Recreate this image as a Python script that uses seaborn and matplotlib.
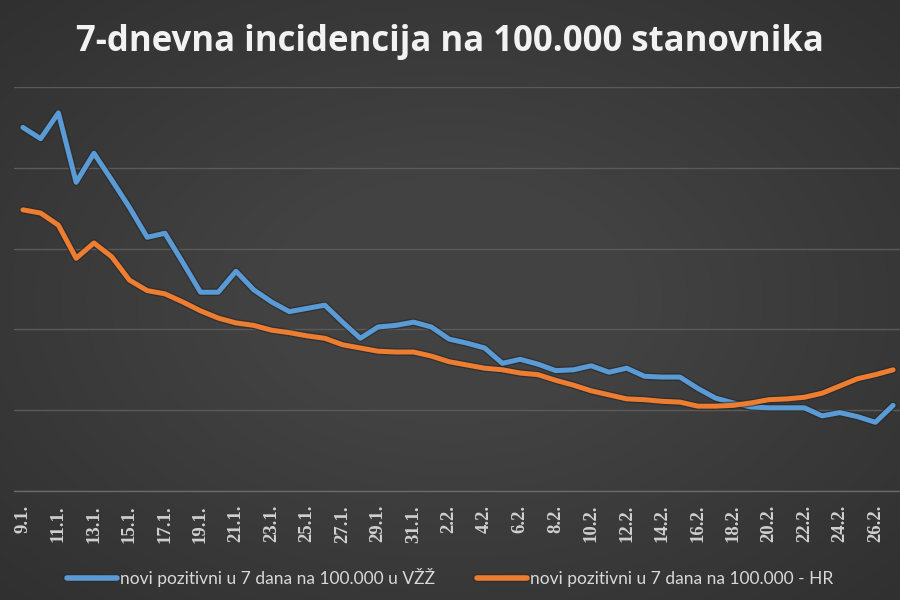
import numpy as np
import pandas as pd
import matplotlib
matplotlib.use("Agg")
import matplotlib.pyplot as plt
import matplotlib.patheffects as pe
import seaborn as sns

days = [f"{d}.1." for d in range(9, 32)] + [f"{d}.2." for d in range(1, 28)]
vzz = [450, 436, 468, 382, 418, 385, 351, 314, 319, 283,
       246, 246, 272, 249, 234, 222, 226, 230, 209, 189,
       203, 205, 209, 203, 188, 183, 177, 158, 163, 157,
       149, 150, 155, 147, 152, 142, 141, 141, 127, 115,
       109, 104, 103, 103, 103, 93, 97, 92, 85, 106]
hr = [348, 344, 329, 288, 307, 290, 261, 248, 244, 234,
      223, 214, 208, 205, 199, 196, 192, 189, 181, 177,
      173, 172, 172, 167, 160, 156, 152, 150, 146, 144,
      137, 131, 124, 119, 114, 113, 111, 110, 105, 105,
      106, 109, 113, 114, 116, 121, 130, 139, 144, 150]
series_names = ["novi pozitivni u 7 dana na 100.000 u VŽŽ",
                "novi pozitivni u 7 dana na 100.000 - HR"]
title = "7-dnevna incidencija na 100.000 stanovnika"

df = pd.DataFrame({
    "idx": list(range(len(days))) * 2,
    "value": vzz + hr,
    "serija": [series_names[0]] * len(days) + [series_names[1]] * len(days),
})

sns.set_theme(style="dark")
bg = "#3e3e3e"
fig = plt.figure(figsize=(9, 6), dpi=100, facecolor=bg)

# subtle vignette background
bax = fig.add_axes([0, 0, 1, 1], zorder=-10)
yy, xx = np.mgrid[-1:1:300j, -1:1:450j]
r = np.sqrt(xx**2 + yy**2)
shade = 0.26 - 0.07 * np.clip(r - 0.4, 0, None)
bax.imshow(np.dstack([shade, shade, shade]), extent=[0, 1, 0, 1], aspect="auto")
bax.axis("off")

ax = fig.add_axes([14 / 900, 109 / 600, 888 / 900, 404 / 600])
ax.set_facecolor("none")
palette = {series_names[0]: "#5b9bd5", series_names[1]: "#ed7d31"}
sns.lineplot(data=df, x="idx", y="value", hue="serija", palette=palette,
             linewidth=3.6, ax=ax, legend=True)
for ln in ax.get_lines():
    ln.set_path_effects([pe.Stroke(linewidth=5.5, foreground="#262626", alpha=0.6), pe.Normal()])
    ln.set_solid_capstyle("round")
    ln.set_solid_joinstyle("round")

ax.set_xlim(-0.5, len(days) - 0.5)
ax.set_ylim(0, 500)
ax.set_yticks([0, 100, 200, 300, 400, 500])
ax.set_yticklabels([])
ax.grid(axis="y", color="#5a5a5a", linewidth=1.0)
ax.grid(axis="x", visible=False)
for s in ["top", "right", "left"]:
    ax.spines[s].set_visible(False)
ax.spines["bottom"].set_color("#6a6a6a")
ax.spines["bottom"].set_linewidth(1.0)
ticks = list(range(0, len(days), 2))
ax.set_xticks(ticks)
ax.set_xticklabels([days[i] for i in ticks], rotation=90, fontsize=13.5,
                   fontweight="bold", family="Liberation Serif", color="#d0d0d0",
                   va="top", ha="center")
ax.tick_params(axis="x", length=0, pad=10)
ax.tick_params(axis="y", length=0)
ax.set_xlabel("")
ax.set_ylabel("")

handles, labels = ax.get_legend_handles_labels()
ax.get_legend().remove()
leg = fig.legend(handles, labels, loc="center", bbox_to_anchor=(0.5, 0.037), ncol=2,
                 frameon=False, handlelength=2.9, handletextpad=0.15,
                 columnspacing=2.4, prop={"family": "Lato", "size": 12.5})
for t in leg.get_texts():
    t.set_color("#d9d9d9")
for h in leg.legend_handles:
    h.set_linewidth(4)

fig.text(0.5, 0.93, title, ha="center", va="center", fontsize=25,
         fontweight="bold", family="Open Sans", color="#f2f2f2")

fig.savefig("out.png", dpi=100, facecolor=bg)
